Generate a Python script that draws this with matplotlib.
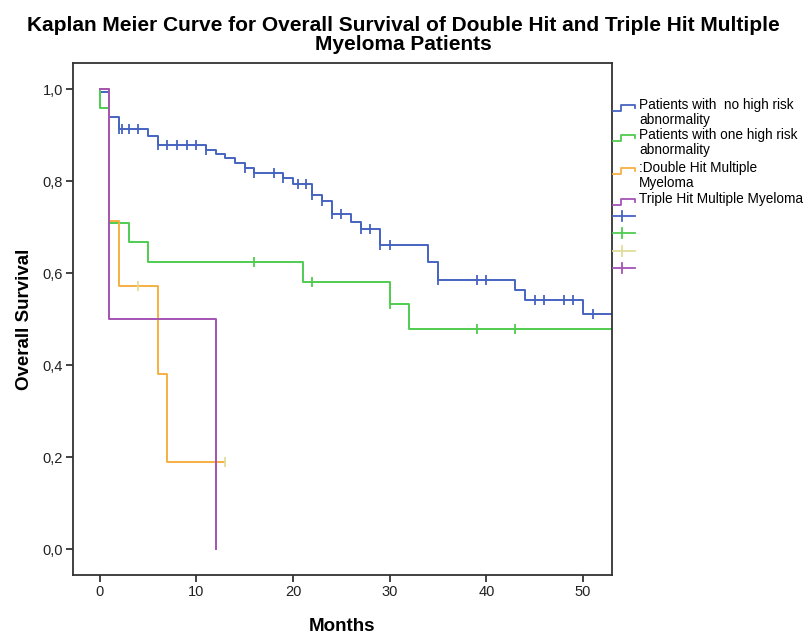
import numpy as np
import matplotlib.pyplot as plt

plt.rcParams['font.family'] = ['Liberation Sans', 'DejaVu Sans']

# Kaplan-Meier steps: event times (months) and survival after each
blue_t = [0, 0, 1, 2, 5, 6, 11, 12, 13, 14, 15, 16, 19, 20, 22, 23, 24, 26, 27, 29, 34, 35, 43, 44, 50, 53]
blue_s = [1.0, 0.993, 0.939, 0.914, 0.897, 0.879, 0.868, 0.859, 0.850, 0.840, 0.828, 0.817, 0.806,
          0.794, 0.769, 0.757, 0.729, 0.712, 0.695, 0.661, 0.624, 0.585, 0.563, 0.541, 0.512, 0.512]
blue_cens = [2, 2.3, 3, 4, 6, 7, 8, 9, 10, 11, 15, 16, 18, 19, 20.5, 21.3, 22, 23, 24, 25,
             27, 28, 29, 30, 35, 39, 40, 45, 46, 48, 49, 51]

green_t = [0, 0, 1, 3, 5, 21, 30, 32, 53]
green_s = [1.0, 0.958, 0.708, 0.667, 0.625, 0.580, 0.532, 0.479, 0.479]
green_cens = [16, 22, 30, 39, 43]

orange_t = [0, 1, 2, 6, 7, 13]
orange_s = [1.0, 0.714, 0.571, 0.381, 0.190, 0.190]
orange_cens = [4, 13]

purple_t = [0, 1, 12]
purple_s = [1.0, 0.5, 0.0]
purple_cens = []

group_labels = ['Patients with  no high risk\nabnormality',
                'Patients with one high risk\nabnormality',
                ':Double Hit Multiple\nMyeloma',
                'Triple Hit Multiple Myeloma']
line_colors = ['#4563c0', '#50cc50', '#f7b042', '#a453b4']
cens_colors = ['#4563c0', '#50cc50', '#e2dc9a', '#a453b4']

x_ticks = [0, 10, 20, 30, 40, 50]
y_ticks = [0.0, 0.2, 0.4, 0.6, 0.8, 1.0]
y_tick_labels = ['0,0', '0,2', '0,4', '0,6', '0,8', '1,0']

W, H = 806, 636
fig = plt.figure(figsize=(W / 100, H / 100), dpi=100)
ax = fig.add_axes([72.7 / W, 1 - 575 / H, (612 - 72.7) / W, (575 - 63.3) / H])

groups = [(blue_t, blue_s, blue_cens), (green_t, green_s, green_cens),
          (orange_t, orange_s, orange_cens), (purple_t, purple_s, purple_cens)]

for (t, s, cens), lc, cc in zip(groups, line_colors, cens_colors):
    ax.step(t, s, where='post', color=lc, lw=1.4)
    if cens:
        idx = np.searchsorted(t, cens, side='right') - 1
        ax.plot(cens, np.array(s)[idx], ls='none', marker='|', ms=7, mew=1.3, color=cc)

ax.set_xlim(-2.8, 53.0)
ax.set_ylim(-0.056, 1.056)
ax.set_xticks(x_ticks)
ax.set_yticks(y_ticks)
ax.set_yticklabels(y_tick_labels)
ax.tick_params(direction='out', length=5, width=1.2, labelsize=10.5, colors='#222222', pad=2)
for sp in ax.spines.values():
    sp.set_color('#333333')
    sp.set_linewidth(1.3)

ax.set_xlabel('Months', fontsize=13.5, fontweight='bold')
ax.xaxis.set_label_coords(0.5, -0.085)
ax.set_ylabel('Overall Survival', fontsize=13.5, fontweight='bold')
ax.yaxis.set_label_coords(-0.074, 0.5)

fig.text(0.5, 1 - 35 / H,
         'Kaplan Meier Curve for Overall Survival of Double Hit and Triple Hit Multiple\nMyeloma Patients',
         ha='center', va='center', fontsize=15, fontweight='bold', linespacing=1.05)

# legend drawn by hand to mimic the SPSS legend at the right
lax = fig.add_axes([0, 0, 1, 1])
lax.set_xlim(0, W)
lax.set_ylim(H, 0)
lax.axis('off')
row_y = [105, 135, 168, 199]
for y, lab, c in zip(row_y, group_labels, line_colors):
    yi = y + 3
    lax.plot([613, 621, 621, 635, 635], [yi + 3, yi + 3, yi - 3, yi - 3, yi], color=c, lw=1.3)
    lax.text(639, y - 7, lab, ha='left', va='top', fontsize=9.8, linespacing=1.08)
plus_y = [216, 233, 251, 268]
for y, c in zip(plus_y, cens_colors):
    lax.plot([613, 635], [y, y], color=c, lw=1.3)
    lax.plot([622, 622], [y - 5, y + 5], color=c, lw=1.3)

fig.savefig('out.png', dpi=100)
